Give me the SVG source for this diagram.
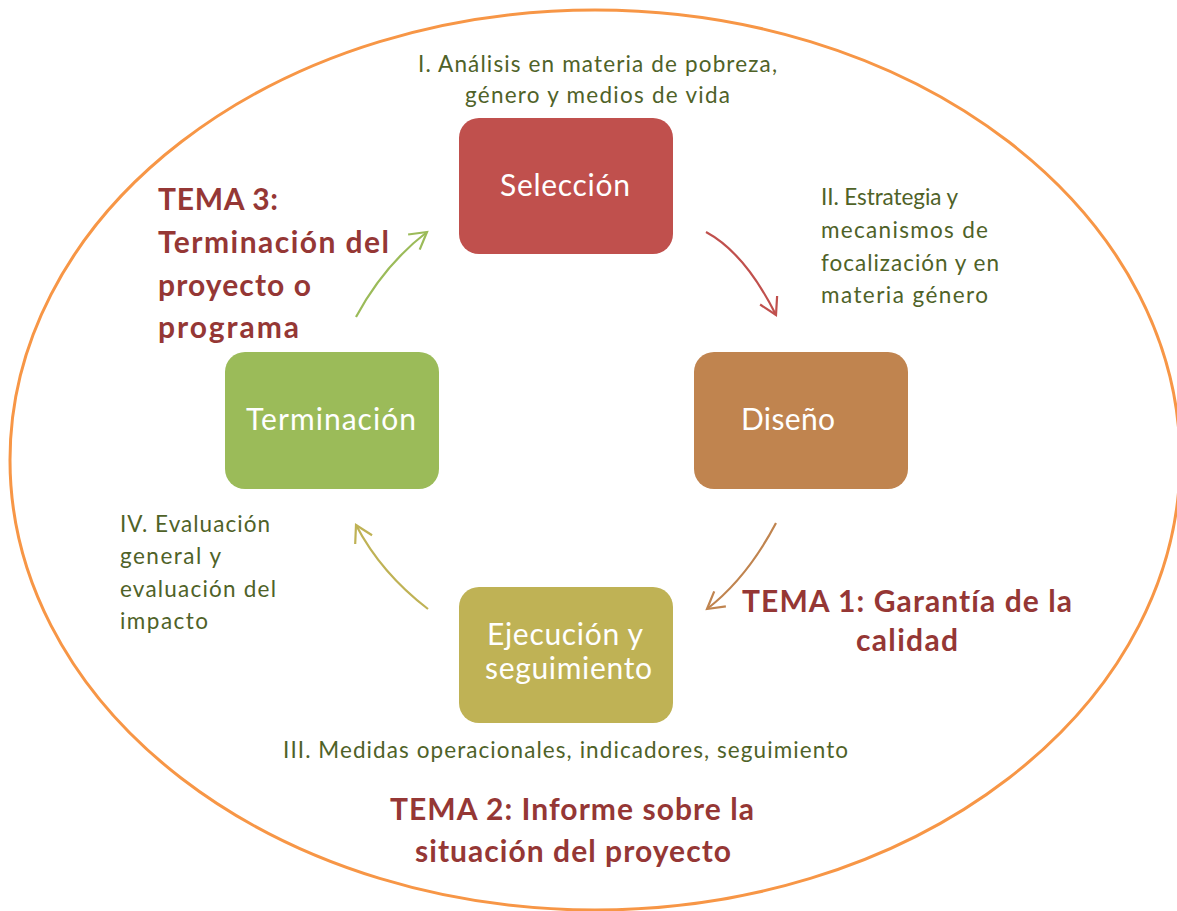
<svg xmlns="http://www.w3.org/2000/svg" width="1177" height="911" viewBox="0 0 1177 911">
<style>
text{font-variant-ligatures:none}
.g{font-family:Lato,"Noto Sans",sans-serif;font-size:22.5px;fill:#4F6228}
.r{font-family:Lato,"Noto Sans",sans-serif;font-size:30px;font-weight:bold;fill:#953735}
.b{font-family:Lato,"Noto Sans",sans-serif;font-size:30px;fill:#FFFFFF}
.c{fill:none;stroke-width:2.2}
</style>
<defs>
<marker id="mr" viewBox="-20 -12 24 24" refX="0" refY="0" markerWidth="24" markerHeight="24" markerUnits="userSpaceOnUse" orient="auto" overflow="visible"><path d="M-16.5,-9.5 L0,0 L-16.5,9.5" fill="none" stroke="#C0504D" stroke-width="2.2"/></marker>
<marker id="mb" viewBox="-20 -12 24 24" refX="0" refY="0" markerWidth="24" markerHeight="24" markerUnits="userSpaceOnUse" orient="auto" overflow="visible"><path d="M-16.5,-9.5 L0,0 L-16.5,9.5" fill="none" stroke="#C0844F" stroke-width="2.2"/></marker>
<marker id="mo" viewBox="-20 -12 24 24" refX="0" refY="0" markerWidth="24" markerHeight="24" markerUnits="userSpaceOnUse" orient="auto" overflow="visible"><path d="M-16.5,-9.5 L0,0 L-16.5,9.5" fill="none" stroke="#BFB255" stroke-width="2.2"/></marker>
<marker id="mg" viewBox="-20 -12 24 24" refX="0" refY="0" markerWidth="24" markerHeight="24" markerUnits="userSpaceOnUse" orient="auto" overflow="visible"><path d="M-16.5,-9.5 L0,0 L-16.5,9.5" fill="none" stroke="#9BBB59" stroke-width="2.2"/></marker>
</defs>
<rect width="1177" height="911" fill="#FFFFFF"/>
<ellipse id="outer" cx="595" cy="460" rx="585" ry="450" fill="none" stroke="#F79646" stroke-width="3"/>
<g id="connectors">
<path class="c" stroke="#C0504D" d="M706,232 Q745,253 776,315" marker-end="url(#mr)"/>
<path class="c" stroke="#C0844F" d="M776,523 Q747,578 707,609" marker-end="url(#mb)"/>
<path class="c" stroke="#BFB255" d="M428,609 Q381,573 356,525" marker-end="url(#mo)"/>
<path class="c" stroke="#9BBB59" d="M356,317 Q384,265 427,232" marker-end="url(#mg)"/>
</g>
<g id="seleccion">
<rect x="459" y="118" width="214" height="136" rx="20" fill="#C0504D"/>
<text class="b" x="500" y="196" textLength="130">Selección</text>
</g>
<g id="diseno">
<rect x="694" y="352" width="214" height="137" rx="20" fill="#C0844F"/>
<text class="b" x="741" y="430" textLength="94">Diseño</text>
</g>
<g id="ejecucion">
<rect x="459" y="587" width="214" height="136" rx="20" fill="#BFB255"/>
<text class="b" x="487" y="645" textLength="156">Ejecución y</text>
<text class="b" x="485" y="679" textLength="167">seguimiento</text>
</g>
<g id="terminacion">
<rect x="225" y="352" width="214" height="137" rx="20" fill="#9BBB59"/>
<text class="b" x="246" y="430" textLength="170">Terminación</text>
</g>
<g id="labels">
<text class="g" x="418" y="72" textLength="359">I. Análisis en materia de pobreza,</text>
<text class="g" x="465" y="103" textLength="265">género y medios de vida</text>
<text class="g" x="821" y="205" textLength="137">II. Estrategia y</text>
<text class="g" x="821" y="238" textLength="167">mecanismos de</text>
<text class="g" x="821" y="271" textLength="178">focalización y en</text>
<text class="g" x="821" y="303" textLength="167">materia género</text>
<text class="g" x="120" y="532" textLength="150">IV. Evaluación</text>
<text class="g" x="120" y="564" textLength="101">general y</text>
<text class="g" x="120" y="597" textLength="156">evaluación del</text>
<text class="g" x="120" y="629" textLength="88">impacto</text>
<text class="g" x="283" y="758" textLength="565">III. Medidas operacionales, indicadores, seguimiento</text>
</g>
<g id="temas">
<text class="r" x="158" y="210" textLength="120">TEMA 3:</text>
<text class="r" x="158" y="253" textLength="231">Terminación del</text>
<text class="r" x="158" y="296" textLength="153">proyecto o</text>
<text class="r" x="158" y="338" textLength="141">programa</text>
<text class="r" x="742" y="612" textLength="330">TEMA 1: Garantía de la</text>
<text class="r" x="856" y="651" textLength="102">calidad</text>
<text class="r" x="390" y="820" textLength="364">TEMA 2: Informe sobre la</text>
<text class="r" x="415" y="862" textLength="316">situación del proyecto</text>
</g>
</svg>
